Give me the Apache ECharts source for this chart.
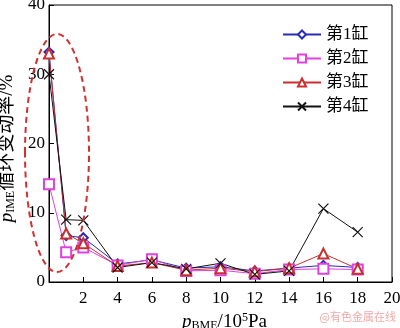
<!DOCTYPE html>
<html><head><meta charset="utf-8">
<script src="https://cdn.jsdelivr.net/npm/echarts@6/dist/echarts.min.js"></script>
<style>html,body{margin:0;padding:0;background:#fff}#c{width:400px;height:328px}</style>
</head><body><div id="c"></div>
<script>
const xValues = [0, 1, 2, 4, 6, 8, 10, 12, 14, 16, 18];
const cyl1 = [33.2, 6.7, 6.4, 2.6, 3.2, 2.0, 2.2, 1.6, 2.0, 2.4, 2.1];
const cyl2 = [14.1, 4.3, 5.0, 2.4, 3.3, 1.6, 1.7, 1.2, 1.8, 1.9, 1.8];
const cyl3 = [33.0, 7.0, 5.6, 2.3, 2.8, 1.7, 2.0, 1.5, 2.0, 4.1, 1.9];
const cyl4 = [30.0, 9.0, 8.9, 2.1, 2.8, 1.9, 2.7, 1.1, 1.6, 10.6, 7.2];
const seriesNames = ['第1缸', '第2缸', '第3缸', '第4缸'];

const FONT = '"Liberation Serif", "Noto Sans CJK SC", serif';
const pair = arr => arr.map((v, i) => [xValues[i], v]);

function mk(name, data, color, symbol, size) {
  return {
    name, type: 'line', data: pair(data), symbol, symbolSize: size,
    lineStyle: { color, width: 1 },
    itemStyle: { color, borderColor: color, borderWidth: 1.2 },
    emphasis: { disabled: true }
  };
}
const xPath = 'path://M0,0L10,10M10,0L0,10';
const chart = echarts.init(document.getElementById('c'));
chart.setOption({
  animation: false,
  backgroundColor: '#fff',
  grid: { left: 49, right: 8, top: 5, bottom: 46, outerBoundsMode: 'none', containLabel: false,
    show: true, borderColor: '#000', borderWidth: 1, backgroundColor: 'transparent' },
  legend: {
    orient: 'vertical', left: 277, top: 21, itemWidth: 38, itemHeight: 10, itemGap: 7,
    textStyle: { fontFamily: FONT, fontSize: 17, color: '#000' },
    data: seriesNames
  },
  xAxis: {
    type: 'value', min: 0, max: 20, interval: 2,
    axisLine: { lineStyle: { color: '#000', width: 1 } },
    axisTick: { inside: true, length: 5, lineStyle: { color: '#000' } },
    splitLine: { show: false },
    axisLabel: { fontFamily: FONT, fontSize: 17, color: '#000', margin: 8,
      formatter: v => v === 0 ? '' : v },
    name: '{p|p}{sub|BME}{n|/10}{sup|5}{n|Pa}',
    nameLocation: 'middle', nameGap: 22,
    nameTextStyle: { padding: [0, 0, 0, 8], rich: {
      p: { fontFamily: FONT, fontStyle: 'italic', fontSize: 19, color: '#000' },
      sub: { fontFamily: FONT, fontSize: 12, color: '#000', padding: [8, 0, 0, 0] },
      n: { fontFamily: FONT, fontSize: 19, color: '#000' },
      sup: { fontFamily: FONT, fontSize: 12, color: '#000', padding: [0, 0, 8, 0] }
    } }
  },
  yAxis: {
    type: 'value', min: 0, max: 40, interval: 10,
    axisLine: { show: true, lineStyle: { color: '#000', width: 1 } },
    axisTick: { show: true, inside: true, length: 5, lineStyle: { color: '#000' } },
    splitLine: { show: false },
    axisLabel: { fontFamily: FONT, fontSize: 17, color: '#000', margin: 4 },
    name: '{p|p}{sub|IME}{n|循环变动率/%}',
    nameLocation: 'middle', nameGap: 26, nameRotate: 90,
    nameTextStyle: { padding: [0, 10, 0, 0], rich: {
      p: { fontFamily: FONT, fontStyle: 'italic', fontSize: 19, color: '#000' },
      sub: { fontFamily: FONT, fontSize: 12, color: '#000', padding: [8, 0, 0, 0] },
      n: { fontFamily: FONT, fontSize: 19, color: '#000' }
    } }
  },
  series: [
    mk(seriesNames[0], cyl1, '#2a2ab8', 'emptyDiamond', 9),
    mk(seriesNames[1], cyl2, '#e040e0', 'emptyRect', 10),
    mk(seriesNames[2], cyl3, '#c83030', 'emptyTriangle', 10),
    Object.assign(mk(seriesNames[3], cyl4, '#111', xPath, 10), {
      itemStyle: { color: 'transparent', borderColor: '#111', borderWidth: 1.2 }
    })
  ],
  graphic: [
    { type: 'ellipse', shape: { cx: 57, cy: 153, rx: 32, ry: 119 },
      style: { fill: 'none', stroke: '#d03030', lineWidth: 2, lineDash: [6, 4] }, z: 10 },
    { type: 'text', right: 4, bottom: 6,
      style: { text: '@有色金属在线', fill: '#f2a8a8', fontSize: 11, fontFamily: '"Noto Sans CJK SC", sans-serif' } }
  ]
});
</script></body></html>
